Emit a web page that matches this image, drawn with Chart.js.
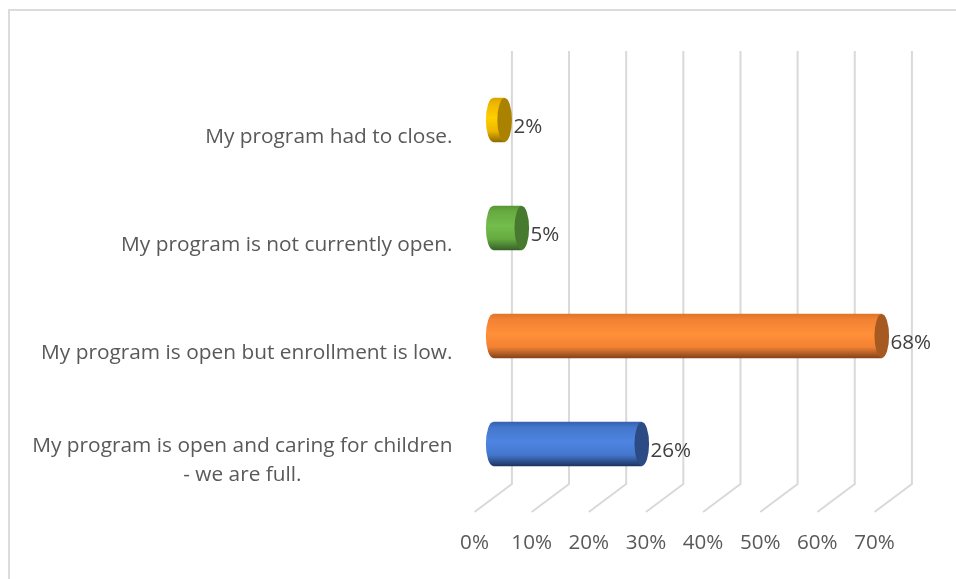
<!DOCTYPE html>
<html><head><meta charset="utf-8">
<style>
html,body{margin:0;padding:0;background:#fff;overflow:hidden}
#wrap{position:relative;width:956px;height:579px}
#c{position:absolute;left:0;top:0}
#frameT{position:absolute;left:8px;top:9px;width:948px;height:2px;background:#dcdcdc}
#frameL{position:absolute;left:8px;top:9px;width:2px;height:570px;background:#dcdcdc}
</style>
<script src="https://cdn.jsdelivr.net/npm/chart.js@4"></script>
</head><body>
<div id="wrap"><div id="frameT"></div><div id="frameL"></div><canvas id="c" width="956" height="579"></canvas></div>
<script>
const categories = [
  ["My program had to close."],
  ["My program is not currently open."],
  ["My program is open but enrollment is low."],
  ["My program is open and caring for children", "- we are full."]
];
const values = [2, 5, 68, 26];
const tickValues = [0, 10, 20, 30, 40, 50, 60, 70];
const bodyEdge = ["#d9a400", "#5a9636", "#e0742a", "#3561b0"];
const bodyDark = ["#8f6a00", "#37622a", "#85431a", "#1c3560"];
const bodyMid = ["#eeb600", "#66aa40", "#f28234", "#4476cc"];
const bodyLight = ["#ffcf00", "#73bd4c", "#ff8f38", "#4f84e2"];
const capColor = ["#ab8100", "#477a2e", "#a65a22", "#2c4b85"];

const FONT = '"Open Sans", sans-serif';
const FONT_SIZE = 20.6;
const CATEGORY_FONT_SIZE = 20.85;
const DX = 18.7, DY = -14;   // depth offset from the front plane to the bar plane
const RX = 7.3, BAR = 44;

function barGradient(ctx, top, h, i) {
  const g = ctx.createLinearGradient(0, top, 0, top + h);
  g.addColorStop(0, bodyEdge[i]);
  g.addColorStop(0.12, bodyMid[i]);
  g.addColorStop(0.45, bodyLight[i]);
  g.addColorStop(0.75, bodyMid[i]);
  g.addColorStop(1, bodyDark[i]);
  return g;
}

const cyl = {
  id: 'cyl',
  beforeDatasetsDraw(chart) {
    const c = chart.ctx, xs = chart.scales.x, a = chart.chartArea;
    c.save();
    c.strokeStyle = '#d9d9d9';
    c.lineWidth = 2;
    tickValues.forEach(v => {
      const x = xs.getPixelForValue(v);
      c.beginPath();
      c.moveTo(x, a.bottom);
      c.lineTo(x + 2 * DX, a.bottom + 2 * DY);
      c.lineTo(x + 2 * DX, a.top + 2 * DY - 1);
      c.stroke();
    });
    c.fillStyle = '#595959';
    c.font = CATEGORY_FONT_SIZE + 'px ' + FONT;
    c.textBaseline = 'middle';
    c.textAlign = 'center';
    const ys = chart.scales.y;
    categories.forEach((lines, i) => {
      const y = ys.getPixelForTick(i);
      const w = Math.max(...lines.map(l => c.measureText(l).width));
      const right = a.left - 22;
      lines.forEach((l, k) => {
        c.fillText(l, right - w / 2, y + (k - (lines.length - 1) / 2) * 29 + 3);
      });
    });
    c.restore();
    c.save();
    c.translate(DX, DY);
  },
  afterDatasetsDraw(chart) {
    const c = chart.ctx, xs = chart.scales.x;
    chart.getDatasetMeta(0).data.forEach((el, i) => {
      const top = el.y - BAR / 2, ry = BAR / 2;
      const x0 = xs.getPixelForValue(0), x1 = el.x;
      c.fillStyle = barGradient(c, top, BAR, i);
      c.beginPath();
      c.ellipse(x0, el.y, RX, ry, 0, 0, Math.PI * 2);
      c.fill();
      c.fillStyle = capColor[i];
      c.beginPath();
      c.ellipse(x1, el.y, RX, ry, 0, 0, Math.PI * 2);
      c.fill();
      c.fillStyle = '#404040';
      c.font = FONT_SIZE + 'px ' + FONT;
      c.textAlign = 'left';
      c.textBaseline = 'middle';
      c.fillText(values[i] + '%', x1 + RX + 1.5, el.y + 7);
    });
    c.restore();
  }
};

new Chart(document.getElementById('c'), {
  type: 'bar',
  data: {
    labels: categories,
    datasets: [{
      data: values,
      barThickness: BAR,
      backgroundColor(ctx) {
        const y = ctx.chart.scales.y ? ctx.chart.scales.y.getPixelForValue(ctx.dataIndex) : NaN;
        if (!Number.isFinite(y)) return bodyMid[ctx.dataIndex];
        return barGradient(ctx.chart.ctx, y - BAR / 2, BAR, ctx.dataIndex);
      },
      borderWidth: 0
    }]
  },
  options: {
    indexAxis: 'y',
    responsive: false,
    animation: false,
    devicePixelRatio: 1,
    layout: { padding: { left: 474.5, right: 81.5, top: 80, bottom: 0 } },
    plugins: { legend: { display: false }, tooltip: { enabled: false } },
    scales: {
      x: {
        type: 'linear', min: 0, max: 70,
        afterBuildTicks(s) { s.ticks = tickValues.map(v => ({ value: v })); },
        grid: { display: false, drawTicks: false },
        border: { display: false },
        ticks: {
          callback: v => v + '%',
          color: '#595959',
          font: { family: FONT, size: FONT_SIZE },
          padding: 19,
          maxRotation: 0,
          autoSkip: false
        },
        afterFit(s) { s.height = 67; }
      },
      y: {
        type: 'category',
        grid: { display: false, drawTicks: false },
        border: { display: false },
        ticks: { display: false }
      }
    }
  },
  plugins: [cyl]
});
</script>
</body></html>
